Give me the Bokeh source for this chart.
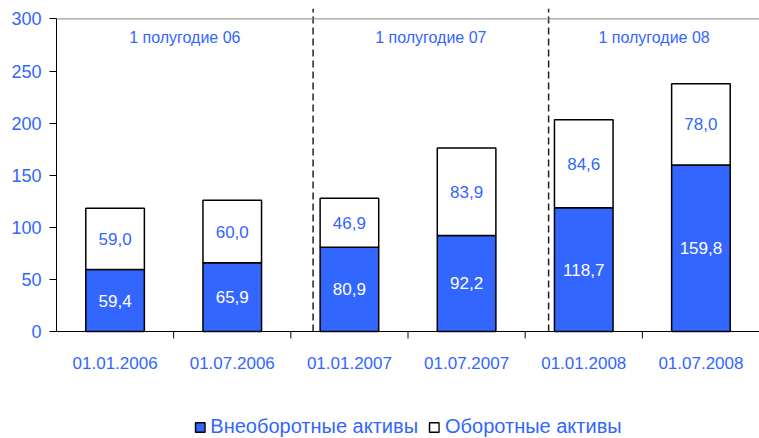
from bokeh.plotting import figure
from bokeh.models import (ColumnDataSource, Range1d, FixedTicker, Span, Legend,
                          LegendItem)
from bokeh.core.properties import value
from bokeh.embed import file_html
from bokeh.resources import INLINE

# ---- data ----
dates = ["01.01.2006", "01.07.2006", "01.01.2007", "01.07.2007", "01.01.2008", "01.07.2008"]
noncurrent = [59.4, 65.9, 80.9, 92.2, 118.7, 159.8]   # Внеоборотные активы
current = [59.0, 60.0, 46.9, 83.9, 84.6, 78.0]        # Оборотные активы
periods = ["1 полугодие 06", "1 полугодие 07", "1 полугодие 08"]
y_ticks = [0, 50, 100, 150, 200, 250, 300]
series_names = ["Внеоборотные активы", "Оборотные активы"]

BLUE = "#3366FF"
FONT = "Liberation Sans"

n = len(dates)
xs = [i + 0.5 for i in range(n)]
tops = [a + b for a, b in zip(noncurrent, current)]


def fmt(v):
    return f"{v:.1f}".replace(".", ",")


src = ColumnDataSource(dict(
    x=xs, nc=noncurrent, tot=tops,
    mid1=[v / 2 for v in noncurrent],
    mid2=[a + b / 2 for a, b in zip(noncurrent, current)],
    lab1=[fmt(v) for v in noncurrent],
    lab2=[fmt(v) for v in current],
))

Y_MIN, Y_MAX = -102.7, 310
p = figure(frame_width=703, frame_height=430, output_backend="svg", toolbar_location=None,
           x_range=Range1d(0, n), y_range=Range1d(Y_MIN, Y_MAX),
           min_border_left=56, min_border_right=0, min_border_top=8, min_border_bottom=0)
p.outline_line_color = None
p.xgrid.visible = False
p.ygrid.visible = False
p.xaxis.visible = False
p.background_fill_color = "white"

r1 = p.vbar(x="x", width=0.5, bottom=0, top="nc", source=src,
            fill_color=BLUE, line_color="black", line_width=1.5)
r2 = p.vbar(x="x", width=0.5, bottom="nc", top="tot", source=src,
            fill_color="white", line_color="black", line_width=1.5)

p.text(x="x", y="mid1", text="lab1", source=src, text_color="white",
       text_font=value(FONT), text_font_size="17px", text_align="center",
       text_baseline="middle")
p.text(x="x", y="mid2", text="lab2", source=src, text_color=BLUE,
       text_font=value(FONT), text_font_size="17px", text_align="center",
       text_baseline="middle")

# category axis (line at 0, ticks between categories, labels below)
p.add_layout(Span(location=0, dimension="width", line_color="black", line_width=1))
boundaries = list(range(1, n))
p.segment(x0=boundaries, y0=[0] * len(boundaries), x1=boundaries, y1=[-6.7] * len(boundaries),
          line_color="black", line_width=1)
p.text(x=xs, y=[-30.7] * n, text=dates, text_color=BLUE,
       text_font=value(FONT), text_font_size="17px", text_align="center",
       text_baseline="middle")

# top border line and period separators
p.add_layout(Span(location=y_ticks[-1], dimension="width", line_color="#888888", line_width=1))
splits = [2.19, 4.2]
p.segment(x0=splits, y0=[0] * len(splits), x1=splits, y1=[Y_MAX] * len(splits),
          line_color="#222222", line_width=1.5, line_dash="7 4")
bounds = [0] + splits + [n]
pmid = [(bounds[i] + bounds[i + 1]) / 2 for i in range(len(periods))]
p.text(x=pmid, y=[282] * len(periods), text=periods, text_color=BLUE,
       text_font=value(FONT), text_font_size="16px", text_align="center",
       text_baseline="middle")

# y axis
ya = p.yaxis[0]
ya.ticker = FixedTicker(ticks=y_ticks)
ya.bounds = (0, y_ticks[-1])
ya.major_tick_out = 7
ya.major_tick_in = 0
ya.minor_tick_out = 0
ya.minor_tick_in = 0
ya.major_label_standoff = 8
ya.major_label_text_color = BLUE
ya.major_label_text_font = FONT
ya.major_label_text_font_size = "18px"
ya.axis_line_color = "black"
ya.major_tick_line_color = "black"

legend = Legend(items=[LegendItem(label=series_names[0], renderers=[r1]),
                       LegendItem(label=series_names[1], renderers=[r2])],
                orientation="horizontal", location="bottom_center",
                label_text_color=BLUE, label_text_font=FONT,
                label_text_font_size="20px", glyph_width=12, glyph_height=12,
                label_standoff=5, spacing=10, padding=0, margin=0,
                label_height=20,
                border_line_color=None, background_fill_alpha=0)
p.add_layout(legend, "center")

open("out.html", "w").write(file_html(p, INLINE))
